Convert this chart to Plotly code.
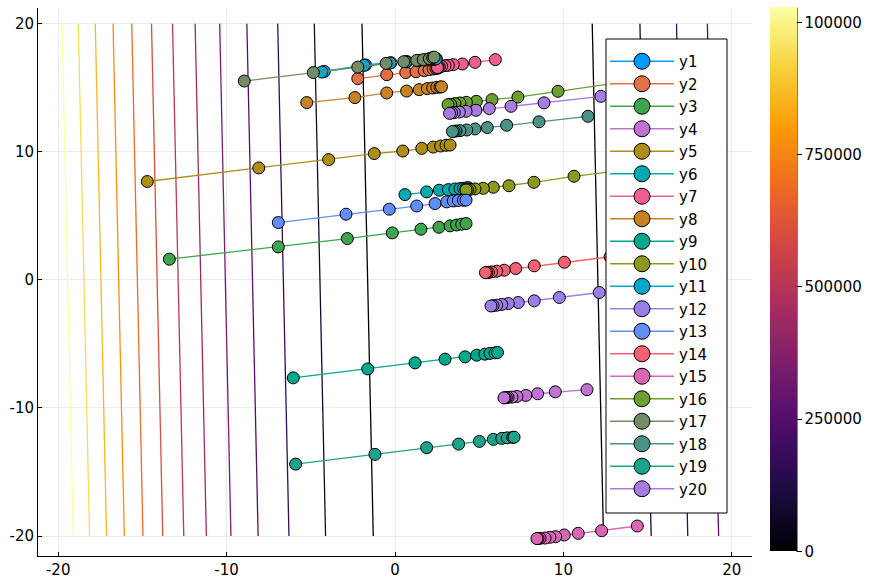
import numpy as np
import plotly.graph_objects as go

# ---------------- data ----------------
names = [f"y{i}" for i in range(1, 21)]
colors = ["#009AFA", "#E36F47", "#3EA44E", "#C371D2", "#AC8E18", "#00AAAE", "#ED5E93",
          "#C68225", "#00A98D", "#8E971E", "#00A8CB", "#9B7FE9", "#618DF6", "#F16170",
          "#D866B2", "#6B9F31", "#738B66", "#4A9487", "#1BA48B", "#A87BE0"]

y1_x = [-4.20, -1.75, -0.25, 0.70, 1.40, 1.80, 2.10, 2.28, 2.40, 2.45]
y1_y = [16.25, 16.76, 16.93, 17.02, 17.10, 17.15, 17.18, 17.20, 17.23, 17.24]
y2_x = [-2.21, -0.49, 0.64, 1.25, 1.74, 2.02, 2.27, 2.43, 2.52, 2.58]
y2_y = [15.69, 16.00, 16.16, 16.23, 16.31, 16.39, 16.44, 16.48, 16.51, 16.53]
y3_x = [-13.40, -6.93, -2.83, -0.16, 1.54, 2.61, 3.27, 3.66, 3.96, 4.22]
y3_y = [1.60, 2.56, 3.21, 3.65, 3.94, 4.09, 4.20, 4.27, 4.33, 4.38]
y4_x = [11.40, 9.52, 8.47, 7.77, 7.24, 6.95, 6.71, 6.61, 6.53, 6.47]
y4_y = [-8.58, -8.75, -8.90, -9.03, -9.11, -9.16, -9.18, -9.20, -9.21, -9.22]
y5_x = [-14.71, -8.09, -3.94, -1.23, 0.46, 1.59, 2.27, 2.71, 3.03, 3.27]
y5_y = [7.66, 8.72, 9.37, 9.84, 10.04, 10.25, 10.35, 10.43, 10.49, 10.51]
y6_x = [0.59, 1.88, 2.63, 3.17, 3.56, 3.86, 4.07, 4.22, 4.31, 4.36]
y6_y = [6.64, 6.85, 6.98, 7.03, 7.08, 7.11, 7.13, 7.15, 7.17, 7.17]
y7_x = [5.96, 4.75, 4.00, 3.46, 3.17, 2.97, 2.77, 2.63, 2.55, 2.52]
y7_y = [17.17, 16.96, 16.83, 16.78, 16.73, 16.70, 16.65, 16.59, 16.57, 16.55]
y8_x = [-5.24, -2.38, -0.49, 0.69, 1.44, 1.92, 2.24, 2.48, 2.67, 2.76]
y8_y = [13.82, 14.21, 14.57, 14.72, 14.83, 14.91, 14.96, 15.01, 15.03, 15.05]
y9_x = [-6.04, -1.62, 1.19, 2.97, 4.16, 4.85, 5.34, 5.64, 5.94, 6.09]
y9_y = [-7.66, -6.96, -6.49, -6.20, -6.02, -5.89, -5.81, -5.75, -5.71, -5.68]
y10_x = [14.37, 10.63, 8.25, 6.77, 5.84, 5.24, 4.75, 4.45, 4.31, 4.22]
y10_y = [8.69, 8.07, 7.60, 7.33, 7.21, 7.13, 7.08, 7.04, 7.02, 7.00]
y11_x = [-4.35, -1.84, -0.30, 0.65, 1.36, 1.78, 2.08, 2.26, 2.38, 2.43]
y11_y = [16.20, 16.73, 16.90, 17.00, 17.08, 17.13, 17.17, 17.19, 17.22, 17.23]
y12_x = [17.40, 12.13, 9.76, 8.27, 7.32, 6.73, 6.34, 6.04, 5.82, 5.70]
y12_y = [-0.43, -1.00, -1.39, -1.65, -1.78, -1.86, -1.93, -1.99, -2.03, -2.05]
y13_x = [-6.93, -2.91, -0.34, 1.29, 2.38, 3.07, 3.46, 3.76, 4.06, 4.22]
y13_y = [4.46, 5.11, 5.50, 5.75, 5.94, 6.07, 6.14, 6.18, 6.20, 6.21]
y14_x = [12.77, 10.06, 8.27, 7.17, 6.49, 6.04, 5.74, 5.55, 5.45, 5.37]
y14_y = [1.79, 1.36, 1.08, 0.87, 0.74, 0.66, 0.61, 0.57, 0.56, 0.55]
y15_x = [14.39, 12.27, 10.88, 10.05, 9.54, 9.20, 8.91, 8.61, 8.49, 8.43]
y15_y = [-19.22, -19.59, -19.79, -19.92, -20.05, -20.10, -20.16, -20.18, -20.20, -20.20]
y16_x = [13.42, 9.68, 7.30, 5.76, 4.83, 4.24, 3.86, 3.56, 3.31, 3.15]
y16_y = [15.40, 14.70, 14.25, 14.05, 13.92, 13.84, 13.79, 13.74, 13.68, 13.66]
y17_x = [-8.95, -4.85, -2.21, -0.53, 0.52, 1.29, 1.68, 2.04, 2.24, 2.32]
y17_y = [15.50, 16.16, 16.59, 16.88, 17.01, 17.11, 17.17, 17.25, 17.33, 17.37]
y18_x = [11.46, 8.55, 6.63, 5.48, 4.75, 4.26, 3.86, 3.62, 3.50, 3.41]
y18_y = [12.75, 12.32, 12.05, 11.87, 11.76, 11.68, 11.63, 11.60, 11.58, 11.56]
y19_x = [-5.90, -1.19, 1.88, 3.78, 5.01, 5.84, 6.34, 6.67, 6.99, 7.07]
y19_y = [-14.39, -13.63, -13.11, -12.83, -12.62, -12.46, -12.38, -12.34, -12.30, -12.29]
y20_x = [12.23, 8.85, 6.89, 5.60, 4.81, 4.22, 3.82, 3.52, 3.36, 3.24]
y20_y = [14.31, 13.80, 13.53, 13.35, 13.22, 13.14, 13.08, 13.04, 13.01, 12.98]

series_x = [y1_x, y2_x, y3_x, y4_x, y5_x, y6_x, y7_x, y8_x, y9_x, y10_x,
            y11_x, y12_x, y13_x, y14_x, y15_x, y16_x, y17_x, y18_x, y19_x, y20_x]
series_y = [y1_y, y2_y, y3_y, y4_y, y5_y, y6_y, y7_y, y8_y, y9_y, y10_y,
            y11_y, y12_y, y13_y, y14_y, y15_y, y16_y, y17_y, y18_y, y19_y, y20_y]

# contour surface (quadratic valley)
grid_lo, grid_hi = -20.0, 20.0
valley_center = 5.21
valley_tilt = 0.0167
surf_scale = 1576.0
n_levels = 13
color_max = 1.028e6

cbar_tickvals = [0, 250000, 500000, 750000, 1000000]
cbar_ticktext = ["0", "250000", "500000", "750000", "100000"]
axis_ticks = [-20, -10, 0, 10, 20]
axis_ticktext = ["-20", "-10", "0", "10", "20"]

# ---------------- figure ----------------
FONT = "DejaVu Sans"
W, H = 883, 582
ML, MR, MT, MB = 38, 131, 8, 26
PW, PH = W - ML - MR, H - MT - MB


def px_x(p):
    return (p - ML) / PW


def px_y(p):
    return (H - MB - p) / PH


gx = np.linspace(grid_lo, grid_hi, 161)
gy = np.linspace(grid_lo, grid_hi, 161)
GX, GY = np.meshgrid(gx, gy)
GZ = surf_scale * (GX + valley_tilt * GY - valley_center) ** 2
step = surf_scale * 46.74

fig = go.Figure()
fig.add_trace(go.Contour(
    x=gx, y=gy, z=GZ, colorscale="Inferno", zmin=0, zmax=color_max, zauto=False,
    contours=dict(coloring="lines", start=step, end=n_levels * step + 1, size=step, showlabels=False),
    line=dict(width=1.3), showscale=False, hoverinfo="skip", showlegend=False))

# colorbar
fig.add_trace(go.Scatter(
    x=[None], y=[None], mode="markers", showlegend=False, hoverinfo="skip",
    marker=dict(color=[0], cmin=0, cmax=color_max, colorscale="Inferno", showscale=True,
                colorbar=dict(x=px_x(770), xanchor="left", xpad=0, thickness=27,
                              lenmode="pixels", len=544, y=px_y(7.5), yanchor="top", ypad=0,
                              outlinewidth=0, ticks="outside", ticklen=5, tickcolor="black",
                              tickvals=cbar_tickvals, ticktext=cbar_ticktext,
                              tickfont=dict(family=FONT, size=15, color="black")))))

for nm, c, xs, ys in zip(names, colors, series_x, series_y):
    fig.add_trace(go.Scatter(
        x=xs, y=ys, mode="lines+markers", name=nm, showlegend=False,
        line=dict(color=c, width=1.3),
        marker=dict(size=12, color=c, line=dict(color="black", width=1))))

for nm, c in zip(names, colors):
    fig.add_trace(go.Scatter(
        x=[None], y=[None], mode="lines+markers", name=nm,
        line=dict(color=c, width=1.3),
        marker=dict(size=16, color=c, line=dict(color="black", width=1))))

fig.update_layout(
    width=W, height=H,
    margin=dict(l=ML, r=MR, t=MT, b=MB, autoexpand=False),
    paper_bgcolor="white", plot_bgcolor="white",
    font=dict(family=FONT, size=15, color="black"),
    showlegend=True,
    legend=dict(x=px_x(605), y=px_y(45), xanchor="left", yanchor="top",
                bgcolor="rgba(0,0,0,0)", borderwidth=0,
                font=dict(family=FONT, size=15, color="black"),
                itemsizing="trace", itemwidth=64),
    xaxis=dict(range=[-21.2, 21.2], tickvals=axis_ticks, ticktext=axis_ticktext,
               ticks="inside", ticklen=4, tickcolor="black", showline=True,
               linecolor="black", linewidth=1, showgrid=True, gridcolor="#EBEBEB",
               gridwidth=1, zeroline=False),
    yaxis=dict(range=[-21.56, 21.2], tickvals=axis_ticks, ticktext=axis_ticktext,
               ticks="inside", ticklen=4, tickcolor="black", showline=True,
               linecolor="black", linewidth=1, showgrid=True, gridcolor="#EBEBEB",
               gridwidth=1, zeroline=False),
    shapes=[
        dict(type="line", xref="paper", yref="paper", x0=px_x(797), x1=px_x(797),
             y0=px_y(552), y1=px_y(7.5), line=dict(color="black", width=1)),
        dict(type="rect", xref="paper", yref="paper", layer="above",
             x0=px_x(606), x1=px_x(727), y0=px_y(513), y1=px_y(39),
             fillcolor="white", line=dict(color="black", width=1)),
    ],
)

fig.write_html("out.html")
